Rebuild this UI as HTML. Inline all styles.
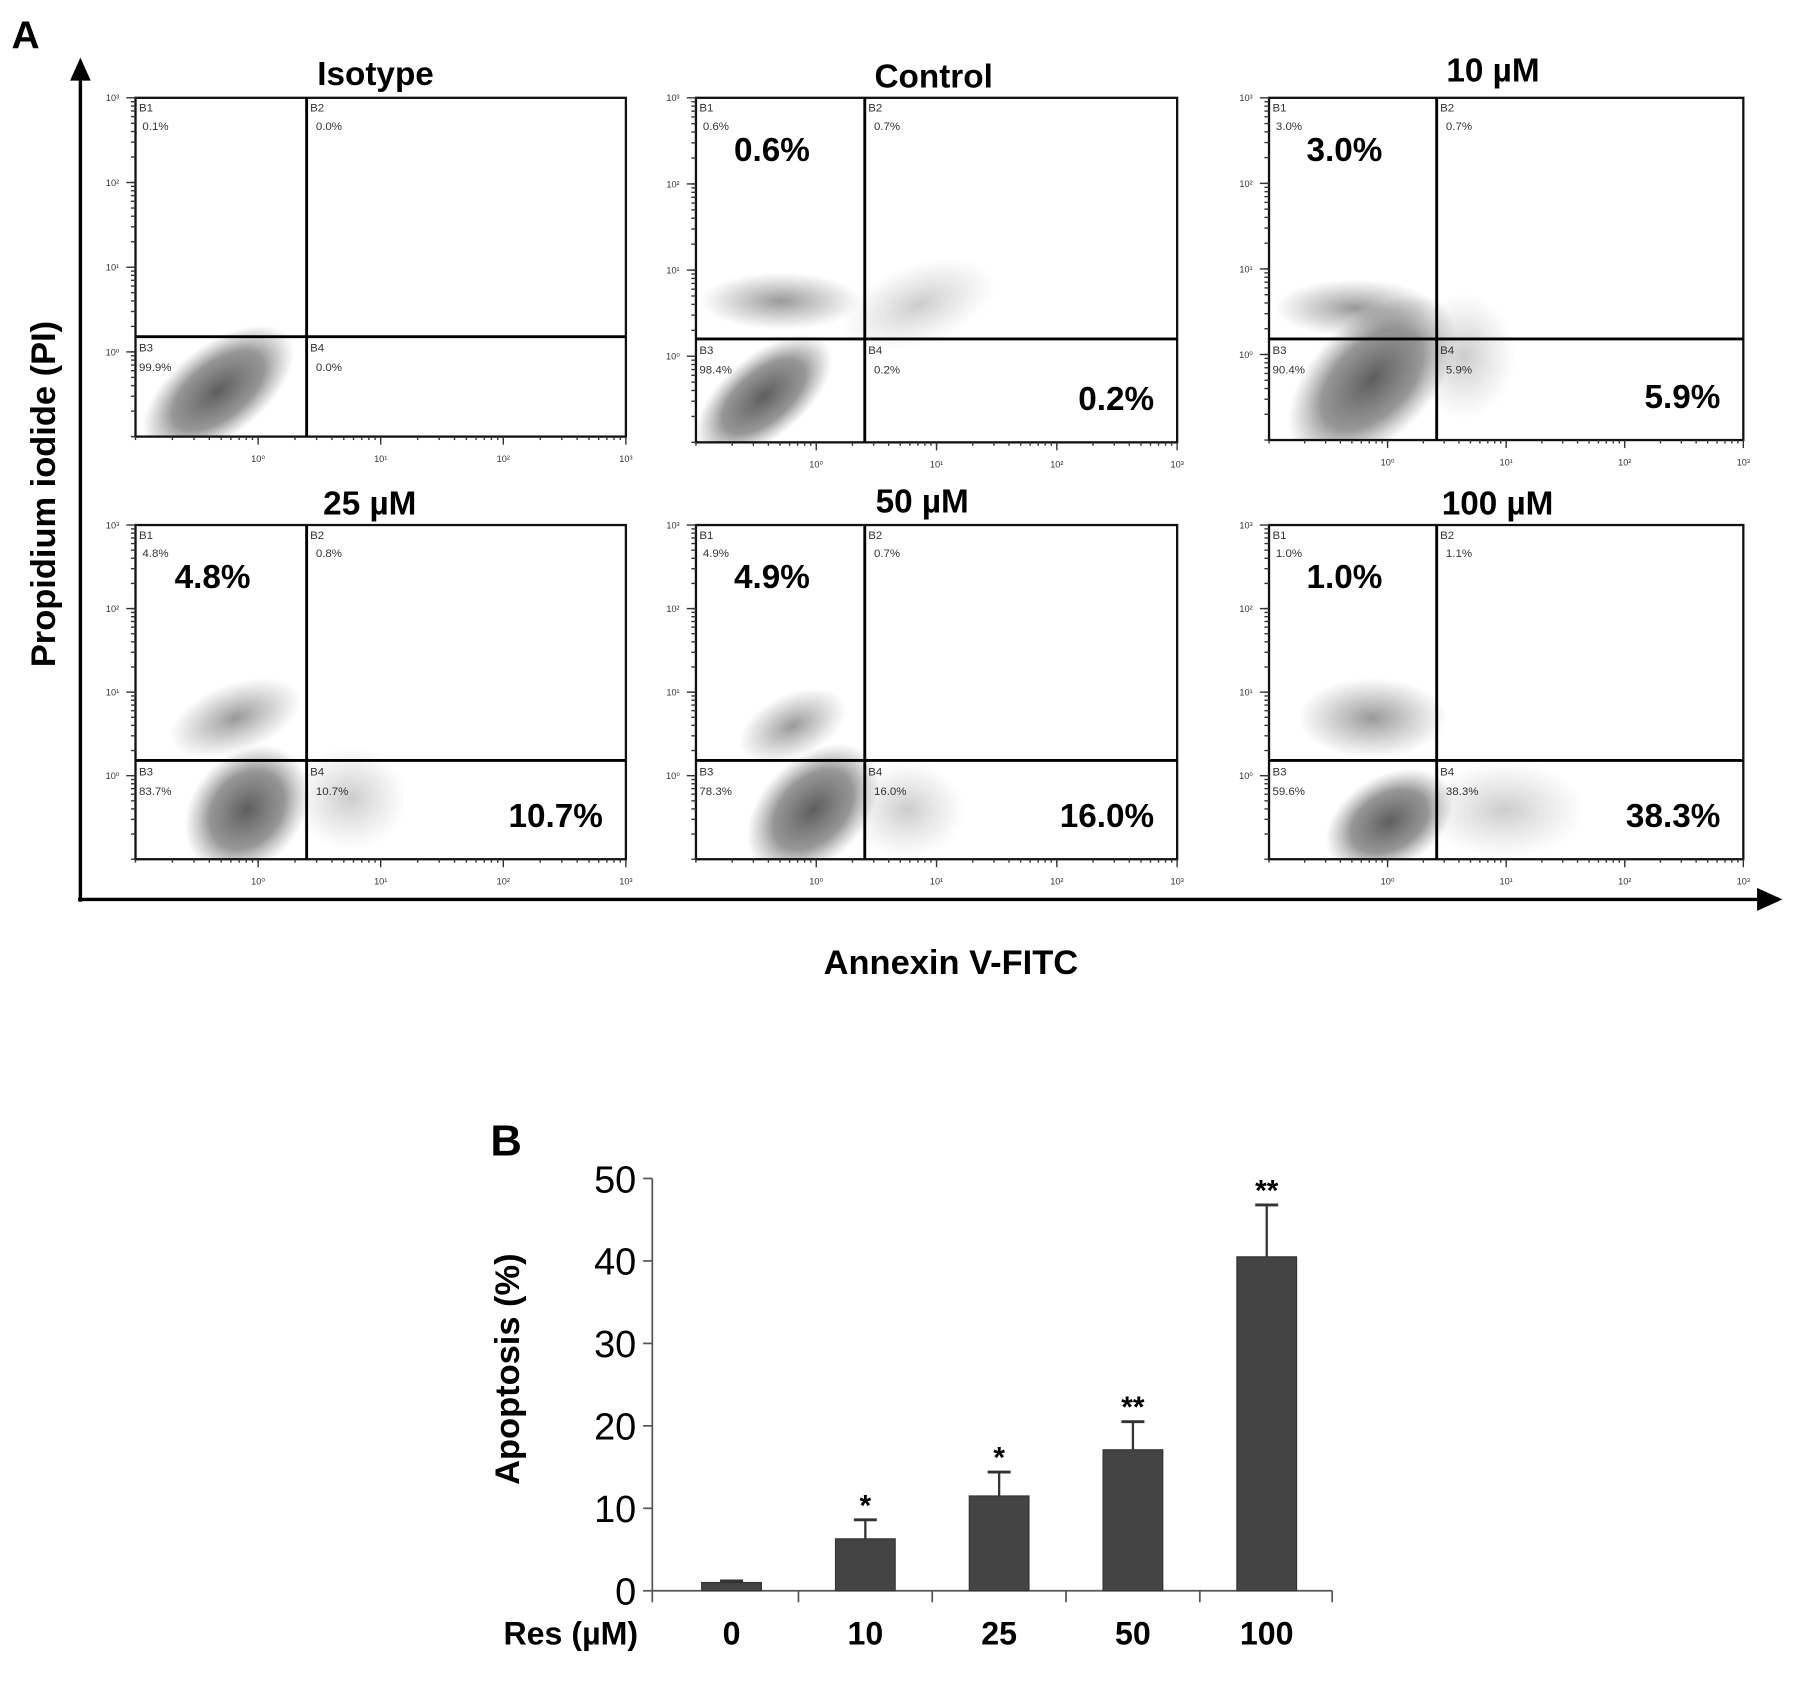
<!DOCTYPE html>
<html><head><meta charset="utf-8"><style>
html,body{margin:0;padding:0;background:#fff}
svg{display:block}
text{font-family:"Liberation Sans",Arial,sans-serif}
</style></head><body>
<svg id="fig" width="1795" height="1684" viewBox="0 0 1563 1466" xmlns="http://www.w3.org/2000/svg">
<defs id="defs">
<radialGradient id="gDark"><stop offset="0" stop-color="#555" stop-opacity="0.95"/><stop offset="0.6" stop-color="#6a6a6a" stop-opacity="0.7"/><stop offset="1" stop-color="#888" stop-opacity="0"/></radialGradient>
<radialGradient id="gMid"><stop offset="0" stop-color="#333" stop-opacity="0.5"/><stop offset="1" stop-color="#444" stop-opacity="0"/></radialGradient>
<radialGradient id="gLight"><stop offset="0" stop-color="#aaa" stop-opacity="0.6"/><stop offset="1" stop-color="#bbb" stop-opacity="0"/></radialGradient>
</defs>
<text x="10" y="42" font-size="34" font-weight="bold">A</text>
<g>
<line x1="70" y1="65" x2="70" y2="785" stroke="#000" stroke-width="3"/>
<polygon points="61,70 70,50 79,70" fill="#000"/></g>
<g>
<line x1="68" y1="783" x2="1535" y2="783" stroke="#000" stroke-width="3"/>
<polygon points="1530,773 1552,783 1530,793" fill="#000"/></g>
<text transform="translate(48,430) rotate(-90)" text-anchor="middle" font-size="30" font-weight="bold">Propidium  iodide (PI)</text>
<text x="828" y="848" text-anchor="middle" font-size="30" font-weight="bold">Annexin V-FITC</text>
<g id="panels"></g>

<text x="427" y="1006" font-size="38" font-weight="bold">B</text>
<g id="bars"></g>
</svg>
<script>
const NS="http://www.w3.org/2000/svg";
function mk(tag,attrs,parent,txt){const e=document.createElementNS(NS,tag);for(const k in attrs)e.setAttribute(k,attrs[k]);if(txt!==undefined)e.textContent=txt;parent.appendChild(e);return e;}

// ---- Flow cytometry panels ----
const panelTitles=["Isotype","Control","10 µM","25 µM","50 µM","100 µM"];
const q1Pct=["0.1%","0.6%","3.0%","4.8%","4.9%","1.0%"];
const q2Pct=["0.0%","0.7%","0.7%","0.8%","0.7%","1.1%"];
const q3Pct=["99.9%","98.4%","90.4%","83.7%","78.3%","59.6%"];
const q4Pct=["0.0%","0.2%","5.9%","10.7%","16.0%","38.3%"];
const bigUpper=["","0.6%","3.0%","4.8%","4.9%","1.0%"];
const bigLower=["","0.2%","5.9%","10.7%","16.0%","38.3%"];
const boxes=[[118,85,427,295],[606,85,419,300],[1105,85,413,298],[118,457,427,291],[606,457,419,291],[1105,457,413,291]];
const splitX=[267,753,1251,267,753,1251];
const splitY=[293,295,295,662,662,662];
const titleXY=[[327,74],[813,76],[1300,71],[322,448],[803,446],[1304,448]];
const blobs=[
 [[190,340,78,40,-38,"gDark"]],
 [[665,345,72,36,-40,"gDark"],[680,262,70,25,0,"gMid"],[800,265,70,35,-20,"gLight"]],
 [[1195,330,90,52,-45,"gDark"],[1180,268,70,25,0,"gMid"],[1275,310,45,55,0,"gLight"]],
 [[215,705,62,48,-50,"gDark"],[205,625,60,30,-20,"gMid"],[305,695,50,45,0,"gLight"]],
 [[708,705,68,45,-45,"gDark"],[690,632,50,28,-25,"gMid"],[790,705,50,42,0,"gLight"]],
 [[1210,715,60,40,-30,"gDark"],[1310,705,70,42,0,"gLight"],[1195,625,65,35,0,"gMid"]]
];
const sup=["⁰","¹","²","³"];
const P=document.getElementById("panels");
const D=document.getElementById("defs");
boxes.forEach((b,i)=>{
 const [x0,y0,w,h]=b;
 const cp=mk("clipPath",{id:"clip"+i},D);
 mk("rect",{x:x0,y:y0,width:w,height:h},cp);
 const g=mk("g",{},P);
 
 
 const bg=mk("g",{"clip-path":`url(#clip${i})`},g);
 blobs[i].forEach(bl=>{const e=mk("ellipse",{cx:bl[0],cy:bl[1],rx:bl[2],ry:bl[3],transform:`rotate(${bl[4]} ${bl[0]} ${bl[1]})`,fill:`url(#${bl[5]})`},bg);
  
  });
 const r=mk("rect",{x:x0,y:y0,width:w,height:h,fill:"none",stroke:"#111","stroke-width":2},g);
 
 
 mk("line",{x1:splitX[i],y1:y0,x2:splitX[i],y2:y0+h,stroke:"#000","stroke-width":2.5},g);
 mk("line",{x1:x0,y1:splitY[i],x2:x0+w,y2:splitY[i],stroke:"#000","stroke-width":2.5},g);
 for(let d=0;d<4;d++){
  const xd=x0+w*(d+1)/4, yd=y0+h*0.75-h*0.25*d;
  mk("text",{x:xd,y:y0+h+22,"font-size":8,"text-anchor":"middle",fill:"#333"},g,"10"+sup[d]);
  mk("text",{x:x0-20,y:yd+3,"font-size":8,"text-anchor":"middle",fill:"#333"},g,"10"+sup[d]);
 }
 for(let d=-1;d<3;d++){for(let k=1;k<=10;k++){
  const f=(d+1+Math.log10(k))/4;
  const xt=x0+w*f, yt=y0+h-h*f;
  const L=(k===10)?7:3;
  mk("line",{x1:xt,y1:y0+h,x2:xt,y2:y0+h+L,stroke:"#333","stroke-width":1.2},g);
  mk("line",{x1:x0,y1:yt,x2:x0-L-1,y2:yt,stroke:"#333","stroke-width":1.2},g);
 }}
 const t=mk("text",{x:titleXY[i][0],y:titleXY[i][1],"font-size":29,"font-weight":"bold","text-anchor":"middle"},g,panelTitles[i]);
 
 
 const sm={"font-size":10,fill:"#333"};
 mk("text",Object.assign({x:x0+3,y:y0+12},sm),g,"B1");
 mk("text",Object.assign({x:x0+6,y:y0+28},sm),g,q1Pct[i]);
 mk("text",Object.assign({x:splitX[i]+3,y:y0+12},sm),g,"B2");
 mk("text",Object.assign({x:splitX[i]+8,y:y0+28},sm),g,q2Pct[i]);
 mk("text",Object.assign({x:x0+3,y:splitY[i]+13},sm),g,"B3");
 mk("text",Object.assign({x:x0+3,y:splitY[i]+30},sm),g,q3Pct[i]);
 mk("text",Object.assign({x:splitX[i]+3,y:splitY[i]+13},sm),g,"B4");
 mk("text",Object.assign({x:splitX[i]+8,y:splitY[i]+30},sm),g,q4Pct[i]);
 if(bigUpper[i]){
  const u=mk("text",{x:x0+(splitX[i]-x0)*0.45,y:y0+55,"font-size":29,"font-weight":"bold","text-anchor":"middle"},g,bigUpper[i]);
  
  
  const l=mk("text",{x:x0+w-20,y:y0+h-28,"font-size":29,"font-weight":"bold","text-anchor":"end"},g,bigLower[i]);
  
  
 }
});

// ---- Bar chart ----
const categories=["0","10","25","50","100"];
const meanValues=[1.0,6.3,11.5,17.1,40.5];
const errorValues=[0.2,2.3,2.9,3.4,6.3];
const stars=["","*","*","**","**"];
const yTicks=[0,10,20,30,40,50];
const B=document.getElementById("bars");
const ax={x0:568,x1:1160,y0:1385,y1:1026,max:50};
const ys=v=>ax.y0-(ax.y0-ax.y1)*v/ax.max;
const band=116.5;
const xs=i=>ax.x0+69+band*i;
const ya=mk("line",{x1:ax.x0,y1:ax.y1,x2:ax.x0,y2:ax.y0,stroke:"#555","stroke-width":1.5},B);


const xa=mk("line",{x1:ax.x0,y1:ax.y0,x2:ax.x1,y2:ax.y0,stroke:"#555","stroke-width":1.5},B);


yTicks.forEach(v=>{
 mk("line",{x1:ax.x0-8,y1:ys(v),x2:ax.x0,y2:ys(v),stroke:"#555","stroke-width":1.5},B);
 const t=mk("text",{x:ax.x0-14,y:ys(v)+12,"font-size":33,"text-anchor":"end"},B,String(v));
 
 
});
const tickXs=[ax.x0].concat(categories.slice(1).map((c,i)=>xs(i+1)-band/2)).concat([ax.x1]);
tickXs.forEach(x=>mk("line",{x1:x,y1:ax.y0,x2:x,y2:ax.y0+10,stroke:"#555","stroke-width":1.5},B));
categories.forEach((c,i)=>{
 const cx=xs(i), bw=52;
 const top=ys(meanValues[i]), et=ys(meanValues[i]+errorValues[i]);
 mk("line",{x1:cx,y1:top,x2:cx,y2:et,stroke:"#333","stroke-width":2},B);
 mk("line",{x1:cx-10,y1:et,x2:cx+10,y2:et,stroke:"#333","stroke-width":2.5},B);
 const r=mk("rect",{x:cx-bw/2,y:top,width:bw,height:ax.y0-top,fill:"#444",stroke:"#333","stroke-width":1},B);
 
 
 if(stars[i]){const s=mk("text",{x:cx,y:et-4,"font-size":26,"font-weight":"bold","text-anchor":"middle"},B,stars[i]);
  
  }
 const l=mk("text",{x:cx,y:1432,"font-size":28,"font-weight":"bold","text-anchor":"middle"},B,c);
 
 
});
const rl=mk("text",{x:497,y:1432,"font-size":28,"font-weight":"bold","text-anchor":"middle"},B,"Res (µM)");


const yt=mk("text",{transform:"translate(452,1192) rotate(-90)","font-size":30,"font-weight":"bold","text-anchor":"middle"},B,"Apoptosis (%)");


</script>
</body></html>
